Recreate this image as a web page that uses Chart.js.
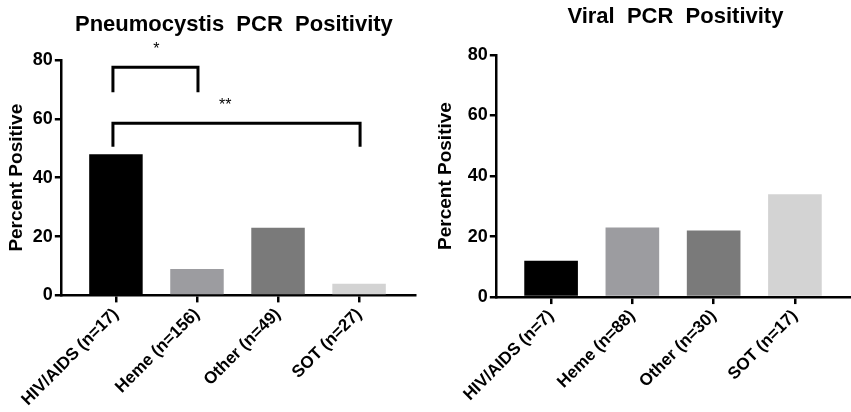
<!DOCTYPE html>
<html>
<head>
<meta charset="utf-8">
<script src="https://cdn.jsdelivr.net/npm/chart.js@4.4.0/dist/chart.umd.min.js"></script>
<style>
  body { margin: 0; background: #fff; }
  .box { position: absolute; top: 0; height: 412px; }
  #left { left: 0; width: 425px; }
  #right { left: 425px; width: 426px; }
</style>
</head>
<body>
<div class="box" id="left"><canvas id="pcpChart"></canvas></div>
<div class="box" id="right"><canvas id="viralChart"></canvas></div>
<script>
// data
const pcpLabels = ['HIV/AIDS (n=17)', 'Heme (n=156)', 'Other (n=49)', 'SOT (n=27)'];
const pcpValues = [48, 9, 23, 4];
const viralLabels = ['HIV/AIDS (n=7)', 'Heme (n=88)', 'Other (n=30)', 'SOT (n=17)'];
const viralValues = [12, 23, 22, 34];
const yTicks = [0, 20, 40, 60, 80];
const barColors = ['#000000', '#9c9ca0', '#7a7a7a', '#d3d3d3'];

// significance brackets: from/to category index, bracket top and leg bottom in %
const pcpBrackets = [
  { from: 0, to: 1, top: 77.5, leg: 69, label: '*', labelX: 0.5, labelY: 85 },
  { from: 0, to: 3, top: 58.5, leg: 50.5, label: '**', labelX: 1.35, labelY: 66 }
];

const FONT = 'Arial, "Liberation Sans", sans-serif';

// title centred over the plot area
const plotTitle = {
  id: 'plotTitle',
  afterDraw(chart, args, opts) {
    const { ctx, chartArea } = chart;
    ctx.save();
    ctx.font = 'bold 22px ' + FONT;
    ctx.fillStyle = '#000';
    ctx.textAlign = 'center';
    ctx.textBaseline = 'alphabetic';
    ctx.fillText(opts.text, (chartArea.left + chartArea.right) / 2 + opts.dx, opts.y);
    ctx.restore();
  }
};

const brackets = {
  id: 'brackets',
  afterDatasetsDraw(chart, args, opts) {
    const list = opts.items || [];
    const { ctx } = chart;
    const x = chart.scales.x, y = chart.scales.y;
    ctx.save();
    ctx.strokeStyle = '#000';
    ctx.lineWidth = 3;
    ctx.lineJoin = 'miter';
    list.forEach(b => {
      const x1 = x.getPixelForValue(b.from) - 3;
      const x2 = x.getPixelForValue(b.to) + 1;
      const yt = y.getPixelForValue(b.top);
      const yl = y.getPixelForValue(b.leg);
      ctx.beginPath();
      ctx.moveTo(x1, yl);
      ctx.lineTo(x1, yt);
      ctx.lineTo(x2, yt);
      ctx.lineTo(x2, yl);
      ctx.stroke();
      ctx.font = '16px ' + FONT;
      ctx.fillStyle = '#000';
      ctx.textAlign = 'center';
      ctx.textBaseline = 'middle';
      ctx.fillText(b.label, x.getPixelForValue(b.labelX), y.getPixelForValue(b.labelY) + 4);
    });
    ctx.restore();
  }
};

function makeChart(id, labels, values, title, titleY, titleDx, padding, yTitlePad, extra) {
  const ctx = document.getElementById(id).getContext('2d');
  return new Chart(ctx, {
    type: 'bar',
    data: {
      datasets: [{
        data: values.map((v, i) => ({ x: i, y: v })),
        backgroundColor: barColors,
        borderWidth: 0,
        categoryPercentage: 1,
        barPercentage: 0.66
      }]
    },
    options: {
      responsive: true,
      maintainAspectRatio: false,
      animation: false,
      layout: { padding: padding },
      plugins: {
        legend: { display: false },
        tooltip: { enabled: false },
        plotTitle: { text: title, y: titleY, dx: titleDx },
        brackets: { items: extra }
      },
      scales: {
        x: {
          type: 'linear',
          offset: false,
          min: -0.68,
          max: 3.69,
          afterBuildTicks: s => { s.ticks = labels.map((l, i) => ({ value: i })); },
          ticks: {
            autoSkip: false,
            maxRotation: 45,
            minRotation: 45,
            padding: 2,
            color: '#000',
            font: { family: FONT, size: 17, weight: 'bold' },
            callback: v => labels[v]
          },
          grid: { display: true, offset: false, drawOnChartArea: false, drawTicks: true, tickLength: 7, color: '#000', lineWidth: 2.5 },
          border: { display: true, color: '#000', width: 2.5 }
        },
        y: {
          min: 0,
          max: 80,
          afterBuildTicks: s => { s.ticks = yTicks.map(v => ({ value: v })); },
          ticks: {
            padding: 2,
            color: '#000',
            font: { family: FONT, size: 18, weight: 'bold' }
          },
          grid: { display: true, drawOnChartArea: false, drawTicks: true, tickLength: 6, color: '#000', lineWidth: 2.5 },
          border: { display: true, color: '#000', width: 2.5 },
          title: {
            display: true,
            text: 'Percent Positive',
            color: '#000',
            padding: { top: 0, bottom: yTitlePad },
            font: { family: FONT, size: 19, weight: 'bold' }
          }
        }
      }
    },
    plugins: [plotTitle, brackets]
  });
}

makeChart('pcpChart', pcpLabels, pcpValues, 'Pneumocystis  PCR  Positivity', 31, -4,
  { top: 60, left: 5, right: 10, bottom: 0 }, 3, pcpBrackets);
makeChart('viralChart', viralLabels, viralValues, 'Viral  PCR  Positivity', 23, 2,
  { top: 55, left: 9, right: 0, bottom: 5 }, 9, []);
</script>
</body>
</html>
